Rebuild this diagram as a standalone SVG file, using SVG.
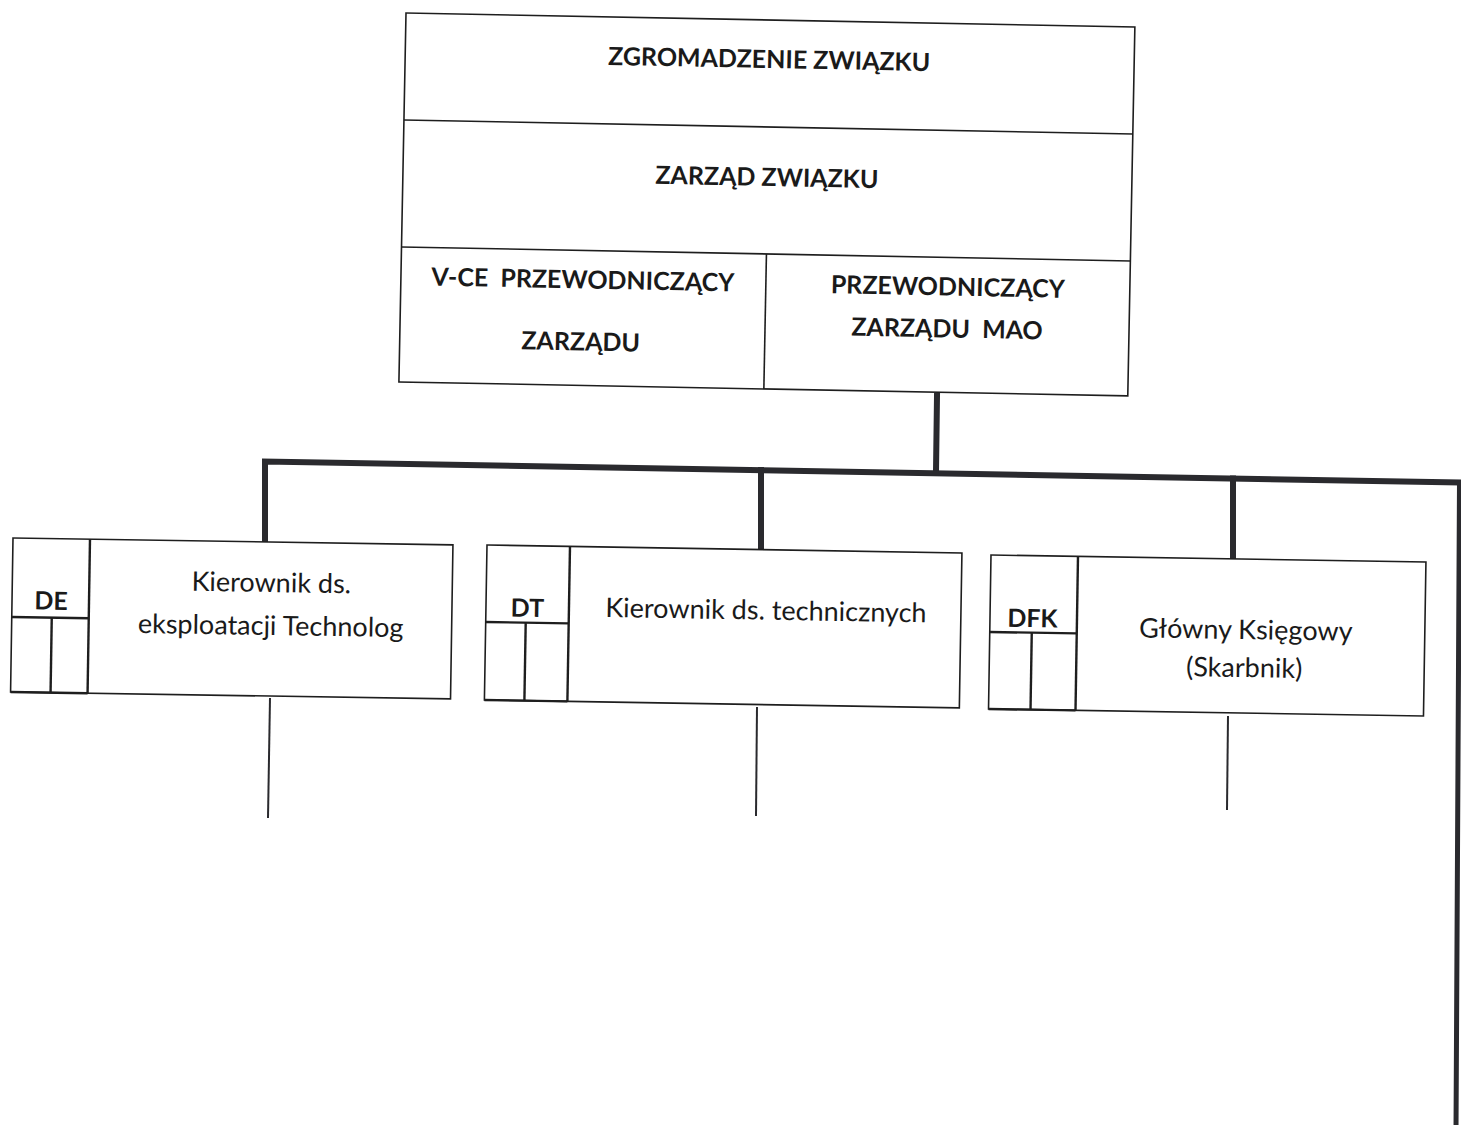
<svg xmlns="http://www.w3.org/2000/svg" width="1461" height="1125" viewBox="0 0 1461 1125">
  <style>
    .box { fill: #ffffff; stroke: #1e1e1e; stroke-width: 1.6; }
    .ln { fill: none; stroke: #1e1e1e; stroke-width: 1.6; }
    .ln2 { fill: none; stroke: #1e1e1e; stroke-width: 2.4; }
    .hd { font-family: Lato, "Liberation Sans", sans-serif; font-weight: bold; font-size: 25px; text-anchor: middle; fill: #1a1a1a; }
    .tx { font-family: Lato, "Liberation Sans", sans-serif; font-size: 27px; text-anchor: middle; fill: #1a1a1a; }
    .thick { fill: none; stroke: #2a2a2e; stroke-width: 6; stroke-linecap: square; }
    .thin { fill: none; stroke: #2a2a2e; stroke-width: 2; }
  </style>

  <rect x="0" y="0" width="1461" height="1125" fill="#ffffff"/>

  <g id="connectors">
    <line class="thick" x1="937" y1="396" x2="936" y2="472"/>
    <polyline class="thick" points="265,540 265,461.5 1461,482.5"/>
    <line class="thick" x1="761" y1="470" x2="761" y2="548"/>
    <line class="thick" x1="1233" y1="478.5" x2="1233" y2="557"/>
    <line class="thick" x1="1459.5" y1="482.5" x2="1456" y2="1130" style="stroke-width:5"/>
    <line class="thin" x1="270" y1="698" x2="268" y2="818"/>
    <line class="thin" x1="757" y1="707" x2="756" y2="816"/>
    <line class="thin" x1="1228" y1="716" x2="1227" y2="810"/>
  </g>

  <g id="node-zarzad" transform="translate(406,13) rotate(1.1)">
    <rect class="box" x="0" y="0" width="729" height="369"/>
    <line class="ln" x1="0" y1="107" x2="729" y2="107"/>
    <line class="ln" x1="0" y1="234" x2="729" y2="234"/>
    <line class="ln" x1="365" y1="234" x2="365" y2="369"/>
    <text class="hd" x="364" y="48">ZGROMADZENIE ZWIĄZKU</text>
    <text class="hd" x="364" y="166">ZARZĄD ZWIĄZKU</text>
    <text class="hd" x="182" y="272" xml:space="preserve">V-CE  PRZEWODNICZĄCY</text>
    <text class="hd" x="181" y="334">ZARZĄDU</text>
    <text class="hd" x="547" y="272">PRZEWODNICZĄCY</text>
    <text class="hd" x="547" y="314" xml:space="preserve">ZARZĄDU  MAO</text>
  </g>

  <g id="node-de" transform="translate(13,538) rotate(0.9)">
    <rect class="box" x="0" y="0" width="440" height="154"/>
    <line class="ln2" x1="77" y1="0" x2="77" y2="154"/>
    <line class="ln2" x1="0" y1="79" x2="77" y2="79"/>
    <line class="ln2" x1="40" y1="79" x2="40" y2="154"/>
    <line class="ln2" x1="0" y1="154" x2="77" y2="154"/>
    <text class="hd" x="39" y="71">DE</text>
    <text class="tx" x="259" y="50">Kierownik ds.</text>
    <text class="tx" x="259" y="93">eksploatacji Technolog</text>
  </g>

  <g id="node-dt" transform="translate(487,545) rotate(0.96)">
    <rect class="box" x="0" y="0" width="475" height="155"/>
    <line class="ln2" x1="83" y1="0" x2="83" y2="155"/>
    <line class="ln2" x1="0" y1="77" x2="83" y2="77"/>
    <line class="ln2" x1="40" y1="77" x2="40" y2="155"/>
    <line class="ln2" x1="0" y1="155" x2="83" y2="155"/>
    <text class="hd" x="41.5" y="71">DT</text>
    <text class="tx" x="280" y="70">Kierownik ds. technicznych</text>
  </g>

  <g id="node-dfk" transform="translate(991,555) rotate(0.92)">
    <rect class="box" x="0" y="0" width="435" height="154"/>
    <line class="ln2" x1="87" y1="0" x2="87" y2="154"/>
    <line class="ln2" x1="0" y1="77" x2="87" y2="77"/>
    <line class="ln2" x1="42" y1="77" x2="42" y2="154"/>
    <line class="ln2" x1="0" y1="154" x2="87" y2="154"/>
    <text class="hd" x="42.5" y="71.5">DFK</text>
    <text class="tx" x="256" y="80">Główny Księgowy</text>
    <text class="tx" x="255" y="118">(Skarbnik)</text>
  </g>
</svg>
